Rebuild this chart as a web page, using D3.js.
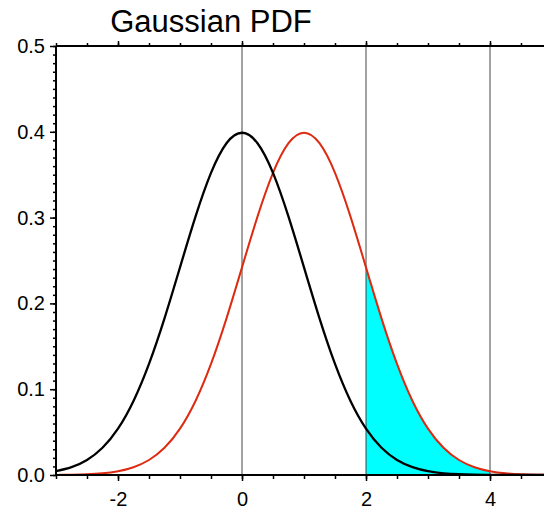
<!DOCTYPE html>
<html>
<head>
<meta charset="utf-8">
<script src="https://cdn.jsdelivr.net/npm/d3@7"></script>
<style>
  body { margin: 0; background: #fff; }
  svg { display: block; font-family: "Liberation Sans", Arial, sans-serif; }
  .tick text { font-size: 20px; }
</style>
</head>
<body>
<div id="chart"></div>
<script>
const xValues = [-3, -2.75, -2.5, -2.25, -2, -1.75, -1.5, -1.25, -1, -0.75, -0.5, -0.25,
  0, 0.25, 0.5, 0.75, 1, 1.25, 1.5, 1.75, 2, 2.25, 2.5, 2.75, 3, 3.25, 3.5, 3.75,
  4, 4.25, 4.5, 4.75, 5];
const blackValues = [0.0044, 0.0091, 0.0175, 0.0317, 0.0540, 0.0863, 0.1295, 0.1826,
  0.2420, 0.3011, 0.3521, 0.3867, 0.3989, 0.3867, 0.3521, 0.3011, 0.2420, 0.1826,
  0.1295, 0.0863, 0.0540, 0.0317, 0.0175, 0.0091, 0.0044, 0.0020, 0.0009, 0.0004,
  0.0001, 0.0000, 0.0000, 0.0000, 0.0000];
const redValues = [0.0001, 0.0004, 0.0009, 0.0020, 0.0044, 0.0091, 0.0175, 0.0317,
  0.0540, 0.0863, 0.1295, 0.1826, 0.2420, 0.3011, 0.3521, 0.3867, 0.3989, 0.3867,
  0.3521, 0.3011, 0.2420, 0.1826, 0.1295, 0.0863, 0.0540, 0.0317, 0.0175, 0.0091,
  0.0044, 0.0020, 0.0009, 0.0004, 0.0001];
const shadeRange = [2, 4];
const refLines = [0, 2, 4];
const xTicks = [-2, 0, 2, 4];
const yTicks = [0, 0.1, 0.2, 0.3, 0.4, 0.5];
const title = "Gaussian PDF";

const W = 544, H = 510;
const margin = {top: 46, left: 56, bottom: 35};

const svg = d3.select("#chart").append("svg")
  .attr("width", W).attr("height", H);

const x = d3.scaleLinear().domain([-3, 5]).range([margin.left, margin.left + 8 * 62]);
const y = d3.scaleLinear().domain([0, 0.5]).range([H - margin.bottom, margin.top]);

svg.append("defs").append("clipPath").attr("id", "plot")
  .append("rect")
  .attr("x", x(-3)).attr("y", y(0.5))
  .attr("width", x(5) - x(-3)).attr("height", y(0) - y(0.5));

const black = xValues.map((d, i) => ({x: d, y: blackValues[i]}));
const red = xValues.map((d, i) => ({x: d, y: redValues[i]}));
const shade = red.filter(d => d.x >= shadeRange[0] && d.x <= shadeRange[1]);

const plot = svg.append("g").attr("clip-path", "url(#plot)");

// shaded tail
plot.append("path")
  .datum(shade)
  .attr("fill", "#00ffff")
  .attr("d", d3.area().curve(d3.curveNatural)
    .x(d => x(d.x)).y0(y(0)).y1(d => y(d.y)));

// reference lines
plot.selectAll(".ref").data(refLines).join("line")
  .attr("x1", d => x(d)).attr("x2", d => x(d))
  .attr("y1", y(0)).attr("y2", y(0.5))
  .attr("stroke", "#444").attr("stroke-width", 1);

const line = d3.line().curve(d3.curveNatural).x(d => x(d.x)).y(d => y(d.y));

plot.append("path").datum(red)
  .attr("fill", "none").attr("stroke", "#dd2a10").attr("stroke-width", 2)
  .attr("d", line);

plot.append("path").datum(black)
  .attr("fill", "none").attr("stroke", "#000").attr("stroke-width", 2.3)
  .attr("d", line);

// axes
const xMinor = d3.range(-3, 5.01, 0.5);
const yMinor = d3.range(0, 0.501, 0.01);
const hyphen = d => String(d).replace("\u2212", "-");

const bottomAxis = svg.append("g").attr("transform", `translate(0,${y(0)})`);
bottomAxis.call(d3.axisBottom(x).tickValues(xMinor).tickSize(4).tickFormat(""))
  .call(g => g.append("g").call(d3.axisBottom(x).tickValues(xTicks).tickSize(6)
    .tickFormat(hyphen).tickPadding(11)))
  .call(g => g.selectAll(".domain").remove());

const topAxis = svg.append("g").attr("transform", `translate(0,${y(0.5)})`);
topAxis.call(d3.axisTop(x).tickValues(xMinor).tickSize(3).tickFormat(""))
  .call(g => g.append("g").call(d3.axisTop(x).tickValues(xTicks).tickSize(5).tickFormat("")))
  .call(g => g.selectAll(".domain").remove());

const leftAxis = svg.append("g").attr("transform", `translate(${x(-3)},0)`);
leftAxis.call(d3.axisLeft(y).tickValues(yMinor).tickSize(3).tickFormat(""))
  .call(g => g.append("g").call(d3.axisLeft(y).tickValues(yTicks).tickSize(6)
    .tickFormat(d3.format(".1f")).tickPadding(5)))
  .call(g => g.selectAll(".domain").remove());

svg.selectAll(".tick line").attr("stroke", "#000").attr("stroke-width", 1.5);
svg.selectAll(".tick text").attr("fill", "#000");

// frame
svg.append("line").attr("x1", x(-3)).attr("x2", x(5)).attr("y1", y(0)).attr("y2", y(0))
  .attr("stroke", "#000").attr("stroke-width", 2);
svg.append("line").attr("x1", x(-3)).attr("x2", x(5)).attr("y1", y(0.5)).attr("y2", y(0.5))
  .attr("stroke", "#000").attr("stroke-width", 2);
svg.append("line").attr("x1", x(-3)).attr("x2", x(-3)).attr("y1", y(0)).attr("y2", y(0.5))
  .attr("stroke", "#000").attr("stroke-width", 2);

svg.append("text")
  .attr("x", 211).attr("y", 32)
  .attr("text-anchor", "middle")
  .style("font-size", "31px")
  .text(title);
</script>
</body>
</html>
